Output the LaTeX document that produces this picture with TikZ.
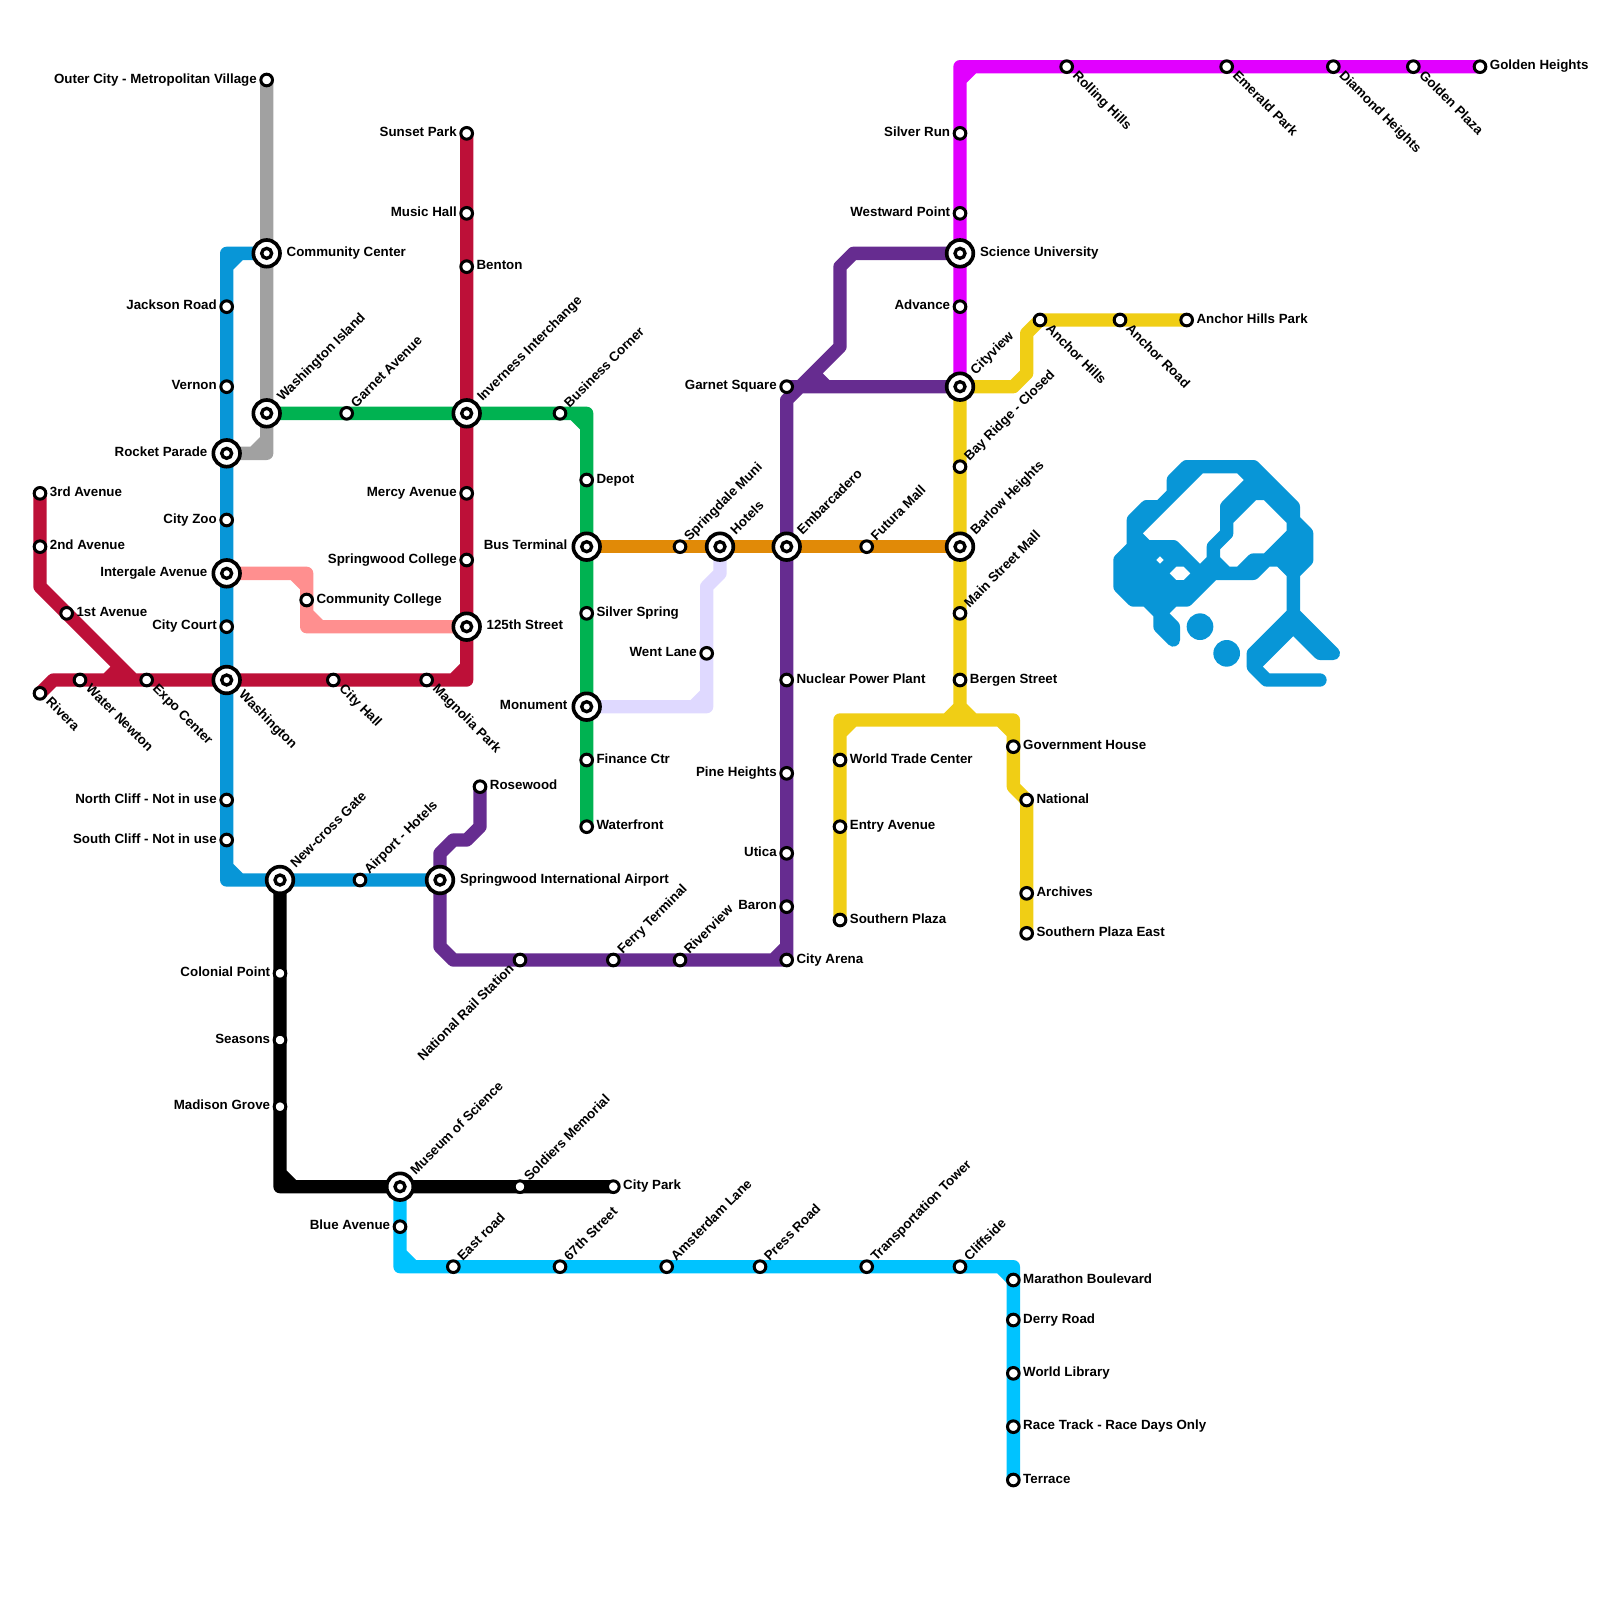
\documentclass[tikz,border=0pt]{standalone}
\usepackage{fontspec}
\setmainfont{Liberation Sans}
\usetikzlibrary{backgrounds}
\definecolor{crimson}{HTML}{BD1038}
\definecolor{metroblue}{HTML}{0896D7}
\definecolor{skyblue}{HTML}{00C3FF}
\definecolor{slategrey}{HTML}{A1A1A1}
\definecolor{metrogreen}{HTML}{00B251}
\definecolor{amber}{HTML}{E18A07}
\definecolor{lavender}{HTML}{DFD9FF}
\definecolor{salmon}{HTML}{FF8F8F}
\definecolor{plum}{HTML}{662C90}
\definecolor{fuchsia}{HTML}{E100FF}
\definecolor{lemon}{HTML}{F0CE15}

\begin{document}
\begin{tikzpicture}[
    x=0.4cm,y=-0.4cm,
    lbl/.style={font=\fontsize{11.38}{13}\selectfont\bfseries,inner sep=0pt,outer sep=0pt,
                text height=0.282cm,text depth=0.102cm},
    stn/.style={circle,draw=black,fill=white,line width=0.09cm,minimum size=0.35cm,inner sep=0pt,
                outer sep=0pt},
    hub/.style={circle,draw=black,fill=white,line width=0.11cm,minimum size=0.8cm,inner sep=0pt,
                outer sep=0pt,
                path picture={\draw[black,line width=0.1cm] (path picture bounding box.center) circle (0.15cm);}},
    lbr/.style={label={[lbl,xshift=0.122cm,anchor=west]0:#1}},
    lbl-left/.style={label={[lbl,xshift=-0.122cm,anchor=east]180:#1}},
    hbr/.style={label={[lbl,xshift=0.2cm,anchor=west]0:#1}},
    hbl/.style={label={[lbl,xshift=-0.18cm,anchor=east]180:#1}},
    lbu/.style={label={[lbl,xshift=0.1cm,yshift=0.1cm,rotate=45,anchor=west]45:#1}},
    lbd/.style={label={[lbl,xshift=0.1cm,yshift=-0.1cm,rotate=-45,anchor=west]-45:#1}},
    hbu/.style={label={[lbl,xshift=0.13cm,yshift=0.13cm,rotate=45,anchor=west]45:#1}},
    hbd/.style={label={[lbl,xshift=0.13cm,yshift=-0.13cm,rotate=-45,anchor=west]-45:#1}},
    lbback/.style={label={[lbl,xshift=-0.1cm,yshift=-0.1cm,rotate=45,anchor=east]225:#1}},
    track/.style={line width=0.4cm,line cap=round,line join=round},
  ]
  \useasboundingbox (0,0) rectangle (120,120);

  % crimson line
  \node[stn,lbr=3rd Avenue] (ave3) at (3,37) {};
  \node[stn,lbr=2nd Avenue] (ave2) at (3,41) {};
  \node[stn,lbr=1st Avenue] (ave1) at (5,46) {};
  \node[stn,lbd=Rivera] (rivera) at (3,52) {};
  \node[stn,lbd=Water Newton] (newton) at (6,51) {};
  \node[stn,lbd=Expo Center] (expo) at (11,51) {};
  \node[stn,lbd=City Hall] (cityhall) at (25,51) {};
  \node[stn,lbd=Magnolia Park] (magnolia) at (32,51) {};
  \node[stn,lbl-left=Sunset Park] (sunset) at (35,10) {};
  \node[stn,lbl-left=Music Hall] (music) at (35,16) {};
  \node[stn,lbr=Benton] (benton) at (35,20) {};
  \node[stn,lbl-left=Mercy Avenue] (mercy) at (35,37) {};
  \node[stn,lbl-left=Springwood College] (swcollege) at (35,42) {};
  \node[hub,hbu=Inverness Interchange] (inverness) at (35,31) {};
  \node[hub,hbr=125th Street] (st125) at (35,47) {};

  % blue line
  \node[stn,lbl-left=Jackson Road] (jackson) at (17,23) {};
  \node[stn,lbl-left=Vernon] (vernon) at (17,29) {};
  \node[stn,lbl-left=City Zoo] (cityzoo) at (17,39) {};
  \node[stn,lbl-left=City Court] (citycourt) at (17,47) {};
  \node[stn,lbl-left=North Cliff - Not in use] (northcliff) at (17,60) {};
  \node[stn,lbl-left=South Cliff - Not in use] (southcliff) at (17,63) {};
  \node[stn,lbu=Airport - Hotels] (airport) at (27,66) {};
  \node[hub,hbr=Community Center] (community) at (20,19) {};
  \node[hub,hbl=Rocket Parade] (rocket) at (17,34) {};
  \node[hub,hbl=Intergale Avenue] (intergale) at (17,43) {};
  \node[hub,hbd=Washington] (washington) at (17,51) {};
  \node[hub,hbu=New-cross Gate] (newcross) at (21,66) {};
  \node[hub,hbr=Springwood International Airport] (swairport) at (33,66) {};

  % grey, green, salmon
  \node[stn,lbl-left=Outer City - Metropolitan Village] (outercity) at (20,6) {};
  \node[hub,hbu=Washington Island] (wisland) at (20,31) {};
  \node[stn,lbu=Garnet Avenue] (garnetave) at (26,31) {};
  \node[stn,lbu=Business Corner] (business) at (42,31) {};
  \node[stn,lbr=Depot] (depot) at (44,36) {};
  \node[hub,hbl=Bus Terminal] (busterm) at (44,41) {};
  \node[stn,lbr=Silver Spring] (silver) at (44,46) {};
  \node[hub,hbl=Monument] (monument) at (44,53) {};
  \node[stn,lbr=Finance Ctr] (finance) at (44,57) {};
  \node[stn,lbr=Waterfront] (waterfront) at (44,62) {};
  \node[stn,lbr=Community College] (commcollege) at (23,45) {};

  % amber, lavender
  \node[stn,lbu=Springdale Muni] (springdale) at (51,41) {};
  \node[hub,hbu=Hotels] (hotels) at (54,41) {};
  \node[hub,hbu=Embarcadero] (embarcadero) at (59,41) {};
  \node[stn,lbu=Futura Mall] (futura) at (65,41) {};
  \node[hub,hbu=Barlow Heights] (barlow) at (72,41) {};
  \node[stn,lbl-left=Went Lane] (went) at (53,49) {};

  % plum line
  \node[stn,lbr=Rosewood] (rosewood) at (36,59) {};
  \node[stn,lbback=National Rail Station] (national) at (39,72) {};
  \node[stn,lbu=Ferry Terminal] (ferry) at (46,72) {};
  \node[stn,lbu=Riverview] (riverview) at (51,72) {};
  \node[stn,lbr=City Arena] (arena) at (59,72) {};
  \node[stn,lbl-left=Baron] (baron) at (59,68) {};
  \node[stn,lbl-left=Utica] (utica) at (59,64) {};
  \node[stn,lbl-left=Pine Heights] (pine) at (59,58) {};
  \node[stn,lbr=Nuclear Power Plant] (nuclear) at (59,51) {};
  \node[stn,lbl-left=Garnet Square] (garnetsq) at (59,29) {};

  % fuchsia line
  \node[stn,lbl-left=Silver Run] (silverrun) at (72,10) {};
  \node[stn,lbl-left=Westward Point] (westward) at (72,16) {};
  \node[hub,hbr=Science University] (science) at (72,19) {};
  \node[stn,lbl-left=Advance] (advance) at (72,23) {};
  \node[hub,hbu=Cityview] (cityview) at (72,29) {};
  \node[stn,lbd=Rolling Hills] (rolling) at (80,5) {};
  \node[stn,lbd=Emerald Park] (emerald) at (92,5) {};
  \node[stn,lbd=Diamond Heights] (diamond) at (100,5) {};
  \node[stn,lbd=Golden Plaza] (goldenplaza) at (106,5) {};
  \node[stn,lbr=Golden Heights] (goldenheights) at (111,5) {};

  % lemon line
  \node[stn,lbu=Bay Ridge - Closed] (bayridge) at (72,35) {};
  \node[stn,lbu=Main Street Mall] (mainst) at (72,46) {};
  \node[stn,lbr=Bergen Street] (bergen) at (72,51) {};
  \node[stn,lbr=World Trade Center] (wtc) at (63,57) {};
  \node[stn,lbr=Entry Avenue] (entry) at (63,62) {};
  \node[stn,lbr=Southern Plaza] (southern) at (63,69) {};
  \node[stn,lbr=Government House] (government) at (76,56) {};
  \node[stn,lbr=National] (nat) at (77,60) {};
  \node[stn,lbr=Archives] (archives) at (77,67) {};
  \node[stn,lbr=Southern Plaza East] (southeast) at (77,70) {};
  \node[stn,lbd=Anchor Hills] (anchorhills) at (78,24) {};
  \node[stn,lbd=Anchor Road] (anchorroad) at (84,24) {};
  \node[stn,lbr=Anchor Hills Park] (anchorpark) at (89,24) {};

  % black line
  \node[stn,lbl-left=Colonial Point] (colonial) at (21,73) {};
  \node[stn,lbl-left=Seasons] (seasons) at (21,78) {};
  \node[stn,lbl-left=Madison Grove] (madison) at (21,83) {};
  \node[hub,hbu=Museum of Science] (museum) at (30,89) {};
  \node[stn,lbu=Soldiers Memorial] (soldiers) at (39,89) {};
  \node[stn,lbr=City Park] (citypark) at (46,89) {};

  % sky line
  \node[stn,lbl-left=Blue Avenue] (blueave) at (30,92) {};
  \node[stn,lbu=East road] (eastroad) at (34,95) {};
  \node[stn,lbu=67th Street] (st67) at (42,95) {};
  \node[stn,lbu=Amsterdam Lane] (amsterdam) at (50,95) {};
  \node[stn,lbu=Press Road] (press) at (57,95) {};
  \node[stn,lbu=Transportation Tower] (transport) at (65,95) {};
  \node[stn,lbu=Cliffside] (cliffside) at (72,95) {};
  \node[stn,lbr=Marathon Boulevard] (marathon) at (76,96) {};
  \node[stn,lbr=Derry Road] (derry) at (76,99) {};
  \node[stn,lbr=World Library] (library) at (76,103) {};
  \node[stn,lbr=Race Track - Race Days Only] (racetrack) at (76,107) {};
  \node[stn,lbr=Terrace] (terrace) at (76,111) {};

  \begin{scope}[on background layer]
    \draw[track,slategrey] (outercity.center) -- (20,34) -- (rocket.center) (19,34) -- (20,33);
    \draw[track,crimson] (ave3.center) -- (3,44) -- (10,51) -- (expo.center)
      (rivera.center) -- (4,51) -- (35,51) -- (sunset.center) (34,51) -- (35,50)
      (8,51) -- (9,50) -- (9,51);
    \draw[track,metroblue] (community.center) -- (17,19) -- (17,66) -- (swairport.center)
      (18,19) -- (17,20) (17,65) -- (18,66);
    \draw[track,metrogreen] (wisland.center) -- (44,31) -- (waterfront.center) (43,31) -- (44,32);
    \draw[track,salmon] (intergale.center) -- (23,43) -- (23,47) -- (st125.center)
      (22,43) -- (23,44) (23,46) -- (24,47);
    \draw[track,amber] (busterm.center) -- (barlow.center);
    \draw[track,lavender] (monument.center) -- (53,53) -- (53,44) -- (54,43) -- (hotels.center)
      (52,53) -- (53,52);
    \draw[track,plum] (science.center) -- (64,19) -- (63,20) -- (63,26) -- (59,30) -- (59,72)
      -- (34,72) -- (33,71) -- (33,64) -- (34,63) -- (35,63) -- (36,62) -- (rosewood.center)
      (cityview.center) -- (garnetsq.center) (60,29) -- (59,30) (61,28) -- (62,29) (61,28) -- (61,29)
      (58,72) -- (59,71);
    \draw[track,fuchsia] (cityview.center) -- (72,5) -- (goldenheights.center) (72,6) -- (73,5);
    \draw[track,lemon] (cityview.center) -- (72,53) (71,54) -- (72,53) -- (73,54)
      (southern.center) -- (63,54) -- (76,54) -- (76,59) -- (77,60) -- (southeast.center)
      (63,55) -- (64,54) (75,54) -- (76,55)
      (cityview.center) -- (76,29) -- (77,28) -- (77,25) -- (78,24) -- (anchorpark.center);
    \draw[track,black] (newcross.center) -- (21,89) -- (citypark.center) (21,88) -- (22,89);
    \draw[track,skyblue] (museum.center) -- (30,95) -- (76,95) -- (terrace.center)
      (30,94) -- (31,95) (75,95) -- (76,96);

    % blue scribble, drawn cell by cell
    \draw[track,metroblue]
      (88,37) -- (88,36) -- (89,35) -- (94,35) -- (97,38) -- (97,39) -- (98,40) -- (98,42) -- (97,43)
        -- (97,46) -- (100,49) -- (99,49) -- (97,47) -- (94,50) -- (95,51) -- (99,51)
      (97,46) -- (94,49) -- (94,50)
      (90,35) -- (85,40) -- (86,41)
      (88,37) -- (87,38) -- (86,38) -- (85,39) -- (85,41) -- (84,42) -- (84,44) -- (85,45) -- (89,45) -- (91,43)
      (86,45) -- (87,46) -- (87,47) -- (88,48) -- (88,47) -- (87,46) -- (88,45)
      (85,41) -- (88,41) -- (90,43) -- (91,42) -- (91,41) -- (92,40) -- (92,38) -- (94,36) -- (93,35)
      (84,42) -- (86,42) -- (87,41) -- (88,42) -- (89,42) -- (90,43) -- (94,43) -- (95,42) -- (96,42) -- (97,43)
      (84,43) -- (87,43) -- (88,42) -- (88,41)
      (86,42) -- (87,43) -- (88,44)
      (84,44) -- (90,44) (90,43) -- (89,44)
      (91,42) -- (91,43)
      (92,40) -- (92,39) -- (94,37) -- (95,37) -- (97,39) -- (97,40) -- (95,42) -- (94,42) -- (93,43)
      (92,43) -- (91,42)
      (94,36) -- (95,36) (93,37) -- (96,37) (92,38) -- (93,38) (96,38) -- (97,38)
      (97,40) -- (98,40) (96,41) -- (98,41) (96,42) -- (98,42);
    \fill[metroblue] (90,47) circle (1) (92,49) circle (1);
  \end{scope}
\end{tikzpicture}
\end{document}
